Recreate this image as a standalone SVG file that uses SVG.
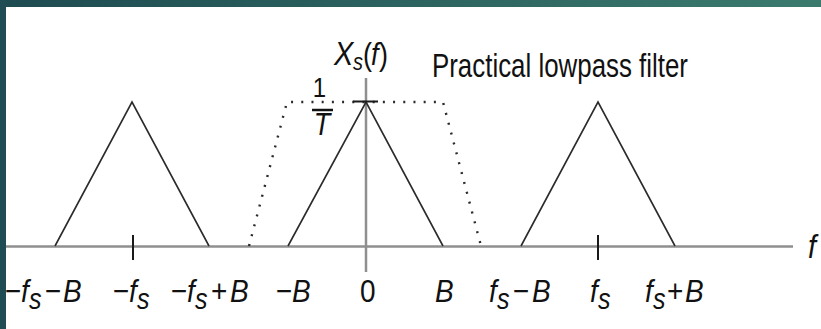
<svg xmlns="http://www.w3.org/2000/svg" width="821" height="329" viewBox="0 0 821 329">
  <defs>
    <linearGradient id="band" x1="0" y1="0" x2="1" y2="0">
      <stop offset="0" stop-color="#1e4b51"/>
      <stop offset="1" stop-color="#3b7b6e"/>
    </linearGradient>
    <style>
      .axis{stroke:#8f8f8f;stroke-width:2.5;fill:none}
      .tri{stroke:#2b2b2b;stroke-width:1.6;fill:none;stroke-linejoin:miter}
      .tick{stroke:#1a1a1a;stroke-width:2}
      .dot{stroke:#2a2a2a;stroke-width:2.4;fill:none;stroke-dasharray:2 8.2}
      text{font-family:"Liberation Sans",Arial,sans-serif;fill:#111}
      .lab{font-size:28px}
      .it{font-style:italic}
      .sub{font-size:25px;font-style:italic}
    </style>
  </defs>
  <rect x="0" y="0" width="821" height="329" fill="#ffffff"/>
  <rect x="0" y="0" width="821" height="7" fill="url(#band)"/>
  <rect x="0" y="0" width="6" height="329" fill="#1f4d53"/>

  <g id="axes">
    <line class="axis" x1="6" y1="246.5" x2="793" y2="246.5"/>
    <line class="axis" x1="366" y1="78" x2="366" y2="272"/>
  </g>

  <g id="connectors">
    <path class="dot" d="M249,246 L287,102 L443,102 L481,246"/>
  </g>

  <g id="spectrum-left"><path class="tri" d="M55,246 L132,102 L209,246"/></g>
  <g id="spectrum-center"><path class="tri" d="M288,246 L366,102 L443,246"/></g>
  <g id="spectrum-right"><path class="tri" d="M521,246 L598,102 L675,246"/></g>

  <g id="ticks">
    <line class="tick" x1="133" y1="235" x2="133" y2="260"/>
    <line class="tick" x1="598" y1="235" x2="598" y2="260"/>
    <line class="tick" x1="353" y1="101.5" x2="378" y2="101.5"/>
  </g>

  <g id="ylabel">
    <g transform="matrix(1,0,0,1.15,0,-9.75)">
      <text y="65"><tspan x="334" class="it" font-size="29">X</tspan><tspan x="353" dy="4" class="it" font-size="20">s</tspan><tspan x="363" dy="-4" font-size="27">(</tspan><tspan x="371" class="it" font-size="27">f</tspan><tspan x="379" font-size="27">)</tspan></text>
    </g>
    <g transform="matrix(1,0,0,1.15,0,-14.55)">
      <text x="319.5" y="97" font-size="24" text-anchor="middle">1</text>
    </g>
    <line x1="312" y1="110" x2="333" y2="110" stroke="#111" stroke-width="2.5"/>
    <g transform="matrix(1,0,0,1.15,0,-20.25)">
      <text x="322" y="135" font-size="27" class="it" text-anchor="middle">T</text>
    </g>
  </g>

  <g id="filter-label" transform="matrix(1,0,0,1.15,0,-11.55)">
    <text x="432" y="77" font-size="29" textLength="256" lengthAdjust="spacingAndGlyphs">Practical lowpass filter</text>
  </g>

  <g id="xlabel" transform="matrix(1,0,0,1.15,0,-38.7)">
    <text x="808" y="258" font-size="29" class="it">f</text>
  </g>

  <g id="ticklabels" transform="matrix(1,0,0,1.15,0,-45.3)">
    <text class="lab" y="302"><tspan x="5">−</tspan><tspan x="21" class="it">f</tspan><tspan x="29" dy="6" class="sub">s</tspan><tspan x="45" dy="-6">−</tspan><tspan x="63" class="it">B</tspan></text>
    <text class="lab" y="302"><tspan x="113">−</tspan><tspan x="129" class="it">f</tspan><tspan x="137" dy="6" class="sub">s</tspan></text>
    <text class="lab" y="302"><tspan x="171">−</tspan><tspan x="187" class="it">f</tspan><tspan x="195" dy="6" class="sub">s</tspan><tspan x="211" dy="-6">+</tspan><tspan x="230" class="it">B</tspan></text>
    <text class="lab" y="302"><tspan x="276">−</tspan><tspan x="292" class="it">B</tspan></text>
    <text class="lab" x="360" y="302">0</text>
    <text class="lab it" x="435" y="302">B</text>
    <text class="lab" y="302"><tspan x="489" class="it">f</tspan><tspan x="497" dy="6" class="sub">s</tspan><tspan x="513" dy="-6">−</tspan><tspan x="532" class="it">B</tspan></text>
    <text class="lab" y="302"><tspan x="590" class="it">f</tspan><tspan x="598" dy="6" class="sub">s</tspan></text>
    <text class="lab" y="302"><tspan x="645" class="it">f</tspan><tspan x="653" dy="6" class="sub">s</tspan><tspan x="667" dy="-6">+</tspan><tspan x="685" class="it">B</tspan></text>
  </g>
</svg>
